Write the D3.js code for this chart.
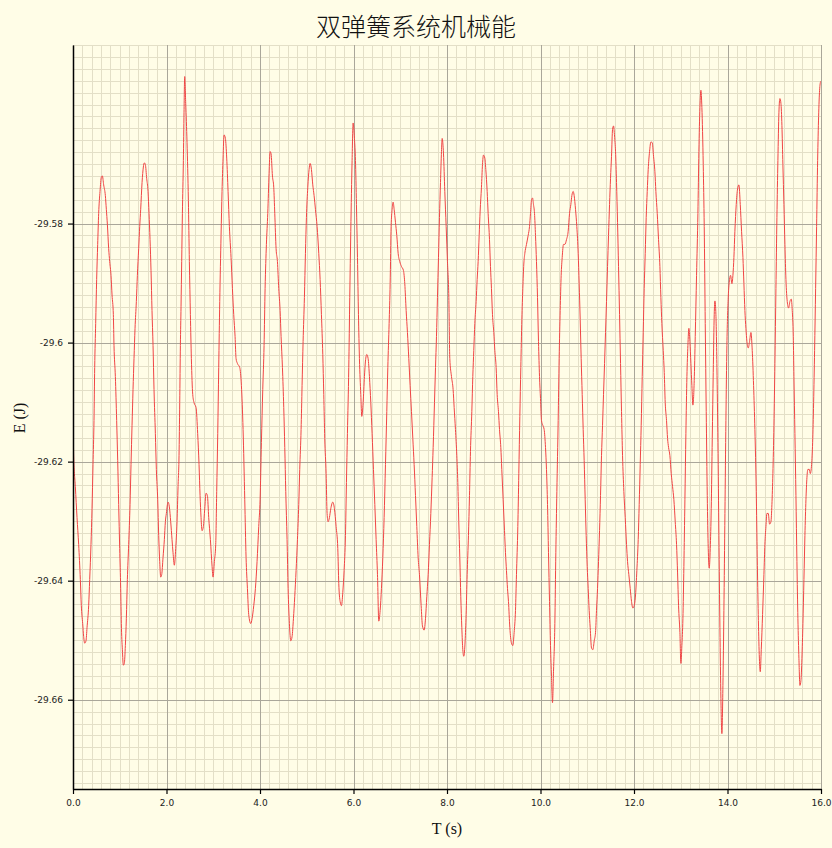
<!DOCTYPE html>
<html><head><meta charset="utf-8">
<script src="https://cdn.jsdelivr.net/npm/d3@7"></script>
<style>html,body{margin:0;padding:0;background:#fffde7;}svg{display:block;}</style>
</head><body><svg id="chart" width="832" height="848"></svg>
<script>
// ---- data ----
const times = [
0.000,0.014,0.050,0.086,0.121,0.157,0.178,0.207,0.228,0.250,0.278,0.300,0.335,0.357,0.385,0.407,0.428,0.449,0.464,0.485,
0.506,0.528,0.549,0.578,0.606,0.628,0.656,0.692,0.713,0.735,0.763,0.785,0.813,0.835,0.863,0.877,0.906,0.934,0.956,0.977,
0.999,1.020,1.034,1.056,1.077,1.098,1.120,1.141,1.163,1.191,1.220,1.241,1.263,1.284,1.305,1.327,1.355,1.377,1.405,1.427,
1.448,1.477,1.505,1.526,1.548,1.576,1.605,1.626,1.648,1.669,1.690,1.712,1.733,1.762,1.783,1.812,1.833,1.855,1.876,1.897,
1.926,1.954,1.976,1.997,2.033,2.061,2.090,2.118,2.140,2.168,2.197,2.225,2.247,2.268,2.283,2.297,2.311,2.325,2.340,2.361,
2.375,2.389,2.411,2.439,2.468,2.489,2.511,2.532,2.561,2.589,2.632,2.667,2.696,2.718,2.739,2.760,2.789,2.818,2.846,2.875,
2.903,2.939,2.975,2.996,3.024,3.053,3.074,3.096,3.117,3.139,3.167,3.188,3.210,3.231,3.260,3.288,3.317,3.345,3.381,3.410,
3.438,3.467,3.488,3.517,3.567,3.602,3.638,3.674,3.702,3.731,3.759,3.802,3.830,3.866,3.902,3.937,3.973,4.002,4.030,4.059,
4.087,4.109,4.137,4.166,4.194,4.216,4.237,4.266,4.294,4.316,4.344,4.373,4.401,4.430,4.451,4.480,4.508,4.530,4.551,4.579,
4.601,4.629,4.658,4.686,4.715,4.743,4.772,4.801,4.829,4.850,4.879,4.900,4.922,4.950,4.972,4.993,5.022,5.050,5.072,5.100,
5.129,5.157,5.186,5.221,5.257,5.286,5.314,5.343,5.364,5.385,5.414,5.435,5.457,5.485,5.514,5.557,5.592,5.628,5.664,5.685,
5.714,5.742,5.771,5.799,5.828,5.849,5.870,5.899,5.920,5.942,5.970,5.992,6.020,6.042,6.063,6.085,6.106,6.127,6.156,6.177,
6.206,6.234,6.256,6.284,6.313,6.341,6.370,6.398,6.427,6.456,6.484,6.513,6.541,6.570,6.598,6.627,6.655,6.684,6.712,6.734,
6.762,6.784,6.805,6.826,6.848,6.869,6.898,6.926,6.955,6.990,7.026,7.069,7.097,7.126,7.154,7.183,7.211,7.240,7.269,7.297,
7.326,7.354,7.383,7.411,7.447,7.475,7.511,7.540,7.568,7.597,7.625,7.654,7.682,7.704,7.732,7.754,7.775,7.796,7.818,7.839,
7.861,7.882,7.897,7.925,7.953,7.982,8.010,8.039,
8.060,8.096,8.131,8.153,8.181,8.210,8.231,8.252,8.274,8.295,8.317,8.338,8.359,8.388,8.409,8.431,8.459,8.481,8.502,8.531,
8.552,8.573,8.595,8.623,8.645,8.666,8.688,8.709,8.737,8.759,8.780,8.809,8.830,8.859,8.880,8.909,8.930,8.951,8.973,9.001,
9.023,9.051,9.073,9.101,9.123,9.151,9.172,9.201,9.230,9.251,9.272,9.294,9.315,9.344,9.379,9.408,9.436,9.465,9.486,9.515,
9.536,9.558,9.579,9.601,9.622,9.643,9.665,9.700,9.736,9.765,9.786,9.807,9.829,9.850,9.872,9.893,9.914,9.936,9.957,9.979,
10.000,10.021,10.050,10.078,10.107,10.128,10.150,10.171,10.193,10.214,10.235,10.257,10.278,10.307,10.328,10.350,10.378,10.399,10.421,10.442,
10.464,10.492,10.521,10.556,10.592,10.621,10.649,10.671,10.699,10.720,10.749,10.777,10.806,10.827,10.849,10.870,10.892,10.913,10.934,10.956,
10.977,10.999,11.020,11.041,11.063,11.091,11.120,11.149,11.177,11.198,11.220,11.241,11.263,11.284,11.305,11.327,11.348,11.370,11.391,11.412,
11.434,11.455,11.477,11.498,11.519,11.541,11.562,11.584,11.605,11.626,11.648,11.669,11.691,11.712,11.733,11.755,11.783,11.812,11.840,11.862,
11.890,11.919,11.947,11.976,12.004,12.033,12.061,12.090,12.111,12.133,12.154,12.176,12.197,12.218,12.240,12.261,12.283,12.304,12.333,12.361,
12.390,12.418,12.447,12.468,12.497,12.525,12.554,12.575,12.596,12.625,12.647,12.668,12.696,12.718,12.739,12.768,12.796,12.825,12.853,12.882,
12.910,12.932,12.953,12.982,13.003,13.024,13.046,13.067,13.089,13.110,13.132,13.153,13.174,13.196,13.217,13.238,13.260,13.288,13.310,13.338,
13.367,13.388,13.410,13.431,13.452,13.481,13.502,13.524,13.545,13.567,13.588,13.609,13.631,13.652,13.674,13.695,13.716,13.731,13.752,13.774,
13.795,13.816,13.838,13.859,13.880,13.902,13.923,13.945,13.966,13.987,14.016,14.044,14.066,14.094,14.116,14.137,14.158,14.187,14.215,14.244,
14.273,14.301,14.330,14.351,14.372,14.394,14.415,14.444,14.472,14.501,14.529,14.558,14.586,14.615,14.636,14.658,14.679,14.701,14.722,14.750,
14.779,14.800,14.822,14.843,14.872,14.900,14.929,14.950,14.971,14.993,15.014,15.036,15.057,15.078,15.100,15.121,15.143,15.164,15.185,15.207,
15.228,15.250,15.278,15.307,15.335,15.364,15.385,15.407,15.421,15.442,15.464,15.485,15.506,15.528,15.549,15.571,15.592,15.613,15.635,15.656,
15.678,15.699,15.720,15.749,15.771,15.799,15.821,15.842,15.863,15.885,15.906,15.928,15.949,15.970,15.992
];
const energies = [
-29.6087,-29.6190,-29.6242,-29.6294,-29.6339,-29.6398,-29.6442,-29.6472,-29.6494,-29.6505,-29.6501,-29.6479,-29.6442,-29.6398,-29.6339,-29.6279,-29.6205,-29.6131,-29.6042,-29.5968,
-29.5894,-29.5835,-29.5783,-29.5746,-29.5722,-29.5720,-29.5735,-29.5753,-29.5776,-29.5801,-29.5842,-29.5864,-29.5887,-29.5920,-29.5953,-29.6005,-29.6057,-29.6131,-29.6198,-29.6272,
-29.6346,-29.6413,-29.6472,-29.6516,-29.6542,-29.6539,-29.6509,-29.6464,-29.6398,-29.6339,-29.6272,-29.6205,-29.6139,-29.6079,-29.6027,-29.5976,-29.5931,-29.5887,-29.5842,-29.5805,
-29.5776,-29.5731,-29.5705,-29.5698,-29.5701,-29.5724,-29.5746,-29.5783,-29.5827,-29.5879,-29.5946,-29.6005,-29.6079,-29.6153,-29.6213,-29.6264,-29.6324,-29.6368,-29.6394,-29.6390,
-29.6361,-29.6331,-29.6301,-29.6287,-29.6268,-29.6276,-29.6301,-29.6331,-29.6353,-29.6374,-29.6346,-29.6301,-29.6242,-29.6190,-29.6101,-29.6005,-29.5939,-29.5864,-29.5783,-29.5694,
-29.5613,-29.5553,-29.5598,-29.5664,-29.5761,-29.5864,-29.5953,-29.6027,-29.6087,-29.6101,-29.6109,-29.6153,-29.6205,-29.6257,-29.6294,-29.6316,-29.6309,-29.6279,-29.6253,-29.6257,
-29.6294,-29.6331,-29.6376,-29.6394,-29.6368,-29.6339,-29.6250,-29.6153,-29.6042,-29.5931,-29.5820,-29.5746,-29.5690,-29.5651,-29.5657,-29.5690,-29.5746,-29.5805,-29.5857,-29.5909,
-29.5953,-29.5990,-29.6027,-29.6035,-29.6042,-29.6072,-29.6146,-29.6264,-29.6361,-29.6413,-29.6457,-29.6472,-29.6464,-29.6442,-29.6413,-29.6368,-29.6309,-29.6264,-29.6168,-29.6079,
-29.6005,-29.5909,-29.5835,-29.5783,-29.5716,-29.5679,-29.5683,-29.5720,-29.5739,-29.5783,-29.5842,-29.5864,-29.5909,-29.5946,-29.5990,-29.6042,-29.6109,-29.6176,-29.6250,-29.6331,
-29.6413,-29.6472,-29.6501,-29.6494,-29.6464,-29.6427,-29.6383,-29.6331,-29.6272,-29.6213,-29.6146,-29.6072,-29.5998,-29.5924,-29.5850,-29.5790,-29.5739,-29.5709,-29.5699,-29.5709,
-29.5735,-29.5753,-29.5776,-29.5805,-29.5850,-29.5894,-29.5953,-29.6020,-29.6087,-29.6161,-29.6220,-29.6287,-29.6301,-29.6294,-29.6279,-29.6268,-29.6279,-29.6309,-29.6346,-29.6405,
-29.6435,-29.6442,-29.6420,-29.6383,-29.6324,-29.6235,-29.6153,-29.6042,-29.5924,-29.5813,-29.5694,-29.5631,-29.5657,-29.5694,-29.5768,-29.5857,-29.5953,-29.6027,-29.6087,-29.6124,
-29.6101,-29.6057,-29.6031,-29.6020,-29.6027,-29.6057,-29.6101,-29.6153,-29.6213,-29.6272,-29.6331,-29.6390,-29.6468,-29.6450,-29.6413,-29.6361,-29.6294,-29.6205,-29.6116,-29.6042,
-29.5968,-29.5901,-29.5805,-29.5776,-29.5764,-29.5776,-29.5798,-29.5820,-29.5850,-29.5864,-29.5872,-29.5879,-29.5901,-29.5946,-29.5983,-29.6027,-29.6072,-29.6116,-29.6161,-29.6205,
-29.6257,-29.6309,-29.6361,-29.6390,-29.6442,-29.6476,-29.6483,-29.6464,-29.6427,-29.6390,-29.6339,-29.6287,-29.6227,-29.6176,-29.6101,-29.6042,-29.5990,-29.5924,-29.5857,-29.5790,
-29.5731,-29.5679,-29.5657,-29.5683,-29.5746,-29.5805,-29.5864,-29.5924,
-29.6027,-29.6057,-29.6079,-29.6109,-29.6146,-29.6190,-29.6235,-29.6301,-29.6361,-29.6427,-29.6479,-29.6516,-29.6527,-29.6501,-29.6457,-29.6390,-29.6324,-29.6257,-29.6183,-29.6116,
-29.6057,-29.6013,-29.5968,-29.5931,-29.5894,-29.5864,-29.5820,-29.5779,-29.5739,-29.5701,-29.5685,-29.5690,-29.5709,-29.5746,-29.5783,-29.5827,-29.5872,-29.5909,-29.5953,-29.5983,
-29.6013,-29.6042,-29.6087,-29.6116,-29.6146,-29.6176,-29.6213,-29.6264,-29.6316,-29.6353,-29.6383,-29.6413,-29.6435,-29.6479,-29.6505,-29.6509,-29.6487,-29.6450,-29.6390,-29.6309,
-29.6220,-29.6124,-29.6042,-29.5961,-29.5909,-29.5868,-29.5850,-29.5835,-29.5820,-29.5805,-29.5783,-29.5761,-29.5757,-29.5768,-29.5783,-29.5820,-29.5864,-29.5924,-29.5998,-29.6057,
-29.6094,-29.6131,-29.6139,-29.6146,-29.6176,-29.6213,-29.6272,-29.6353,-29.6435,-29.6509,-29.6561,-29.6605,-29.6553,-29.6472,-29.6353,-29.6250,-29.6131,-29.6027,-29.5946,-29.5887,
-29.5857,-29.5835,-29.5835,-29.5827,-29.5813,-29.5783,-29.5768,-29.5753,-29.5746,-29.5753,-29.5776,-29.5805,-29.5850,-29.5901,-29.5961,-29.6027,-29.6087,-29.6146,-29.6198,-29.6264,
-29.6324,-29.6376,-29.6413,-29.6450,-29.6479,-29.6513,-29.6516,-29.6501,-29.6487,-29.6450,-29.6413,-29.6368,-29.6316,-29.6257,-29.6190,-29.6139,-29.6087,-29.6035,-29.5983,-29.5931,
-29.5872,-29.5820,-29.5768,-29.5724,-29.5687,-29.5642,-29.5636,-29.5653,-29.5679,-29.5731,-29.5798,-29.5872,-29.5953,-29.6035,-29.6116,-29.6190,-29.6250,-29.6294,-29.6339,-29.6368,
-29.6390,-29.6413,-29.6435,-29.6446,-29.6442,-29.6424,-29.6383,-29.6331,-29.6272,-29.6205,-29.6139,-29.6057,-29.5983,-29.5909,-29.5850,-29.5790,-29.5746,-29.5709,-29.5679,-29.5663,
-29.5664,-29.5687,-29.5713,-29.5746,-29.5783,-29.5827,-29.5872,-29.5924,-29.5968,-29.6013,-29.6050,-29.6101,-29.6131,-29.6161,-29.6176,-29.6190,-29.6220,-29.6242,-29.6264,-29.6301,
-29.6339,-29.6387,-29.6442,-29.6487,-29.6539,-29.6509,-29.6464,-29.6376,-29.6264,-29.6153,-29.6057,-29.6005,-29.5976,-29.5998,-29.6035,-29.6072,-29.6105,-29.6064,-29.5990,-29.5887,
-29.5783,-29.5679,-29.5605,-29.5576,-29.5605,-29.5701,-29.5805,-29.5968,-29.6116,-29.6257,-29.6346,-29.6379,-29.6346,-29.6279,-29.6161,-29.6050,-29.5953,-29.5930,-29.5953,-29.6042,
-29.6168,-29.6324,-29.6479,-29.6598,-29.6657,-29.6576,-29.6450,-29.6287,-29.6131,-29.6005,-29.5924,-29.5894,-29.5887,-29.5901,-29.5887,-29.5857,-29.5813,-29.5768,-29.5742,-29.5735,
-29.5768,-29.5813,-29.5857,-29.5901,-29.5946,-29.5976,-29.5998,-29.6009,-29.5998,-29.5983,-29.6013,-29.6072,-29.6146,-29.6250,-29.6361,-29.6457,-29.6524,-29.6553,-29.6516,-29.6457,
-29.6390,-29.6339,-29.6309,-29.6287,-29.6287,-29.6305,-29.6301,-29.6272,-29.6220,-29.6139,-29.6035,-29.5909,-29.5790,-29.5694,-29.5613,-29.5590,-29.5598,-29.5635,-29.5701,-29.5768,
-29.5835,-29.5894,-29.5931,-29.5942,-29.5931,-29.5927,-29.5946,-29.5990,-29.6057,-29.6153,-29.6257,-29.6368,-29.6464,-29.6531,-29.6576,-29.6568,-29.6531,-29.6472,-29.6398,-29.6324,
-29.6264,-29.6227,-29.6213,-29.6213,-29.6220,-29.6205,-29.6168,-29.6101,-29.6013,-29.5909,-29.5805,-29.5694,-29.5620,-29.5576,-29.5561
];
const xTicks = [0, 2, 4, 6, 8, 10, 12, 14, 16];
const yTicks = [-29.66, -29.64, -29.62, -29.6, -29.58];
const titleText = "双弹簧系统机械能";
const xLabelText = "T (s)";
const yLabelText = "E (J)";

// ---- drawing ----
const svg = d3.select("#chart");
const x = d3.scaleLinear().domain([0, 16]).range([73, 821]);
const y = d3.scaleLinear().domain([-29.675, -29.55]).range([789, 45]);

svg.append("rect").attr("width", 832).attr("height", 848).attr("fill", "#fffde7");

const grid = svg.append("g");
const xMinor = d3.range(0, 16.0001, 0.2);
const yMinor = d3.range(-29.674, -29.5499, 0.002);
grid.selectAll("line.xm").data(xMinor).join("line")
  .attr("x1", d => Math.round(x(d)) + 0.5).attr("x2", d => Math.round(x(d)) + 0.5)
  .attr("y1", y.range()[1]).attr("y2", y.range()[0])
  .attr("stroke", "#e3dfc7").attr("stroke-width", 1);
grid.selectAll("line.ym").data(yMinor).join("line")
  .attr("y1", d => Math.round(y(d)) + 0.5).attr("y2", d => Math.round(y(d)) + 0.5)
  .attr("x1", x.range()[0]).attr("x2", x.range()[1])
  .attr("stroke", "#e3dfc7").attr("stroke-width", 1);
grid.selectAll("line.xM").data(xTicks).join("line")
  .attr("x1", d => Math.round(x(d)) + 0.5).attr("x2", d => Math.round(x(d)) + 0.5)
  .attr("y1", y.range()[1]).attr("y2", y.range()[0])
  .attr("stroke", "#aaa79a").attr("stroke-width", 1);
grid.selectAll("line.yM").data(yTicks).join("line")
  .attr("y1", d => Math.round(y(d)) + 0.5).attr("y2", d => Math.round(y(d)) + 0.5)
  .attr("x1", x.range()[0]).attr("x2", x.range()[1])
  .attr("stroke", "#aaa79a").attr("stroke-width", 1);

svg.append("clipPath").attr("id", "clip").append("rect")
  .attr("x", 73).attr("y", 45).attr("width", 748).attr("height", 744);

const data = times.map((t, i) => [t, energies[i]]);
svg.append("path").datum(data)
  .attr("clip-path", "url(#clip)")
  .attr("fill", "none").attr("stroke", "#f04545").attr("stroke-width", 1)
  .attr("d", d3.line().x(d => x(d[0])).y(d => y(d[1])).curve(d3.curveMonotoneX));

const xAxis = svg.append("g").attr("transform", "translate(0,789)")
  .call(d3.axisBottom(x).tickValues(xTicks).tickFormat(d3.format(".1f")).tickSize(5).tickSizeOuter(0).tickPadding(6));
const yAxis = svg.append("g").attr("transform", "translate(73,0)")
  .call(d3.axisLeft(y).tickValues(yTicks).tickFormat(d => String(d)).tickSize(5).tickSizeOuter(0).tickPadding(5));
[xAxis, yAxis].forEach(g => {
  g.select(".domain").attr("stroke", "#000").attr("stroke-width", 1.5);
  g.selectAll(".tick line").attr("stroke", "#000").attr("stroke-width", 1.2);
  g.selectAll("text").attr("fill", "#222").style("font-family", "'DejaVu Sans', sans-serif").style("font-size", "9px");
});

svg.append("text").attr("x", 416).attr("y", 36).attr("text-anchor", "middle")
  .style("font-family", "'Noto Sans CJK SC', sans-serif").style("font-size", "25px").style("font-weight", 300).attr("fill", "#111")
  .text(titleText);
svg.append("text").attr("x", 447).attr("y", 834).attr("text-anchor", "middle")
  .style("font-family", "'Liberation Serif', serif").style("font-size", "16px").attr("fill", "#111")
  .text(xLabelText);
svg.append("text").attr("transform", "translate(25,418) rotate(-90)").attr("text-anchor", "middle")
  .style("font-family", "'Liberation Serif', serif").style("font-size", "16px").attr("fill", "#111")
  .text(yLabelText);
</script></body></html>
